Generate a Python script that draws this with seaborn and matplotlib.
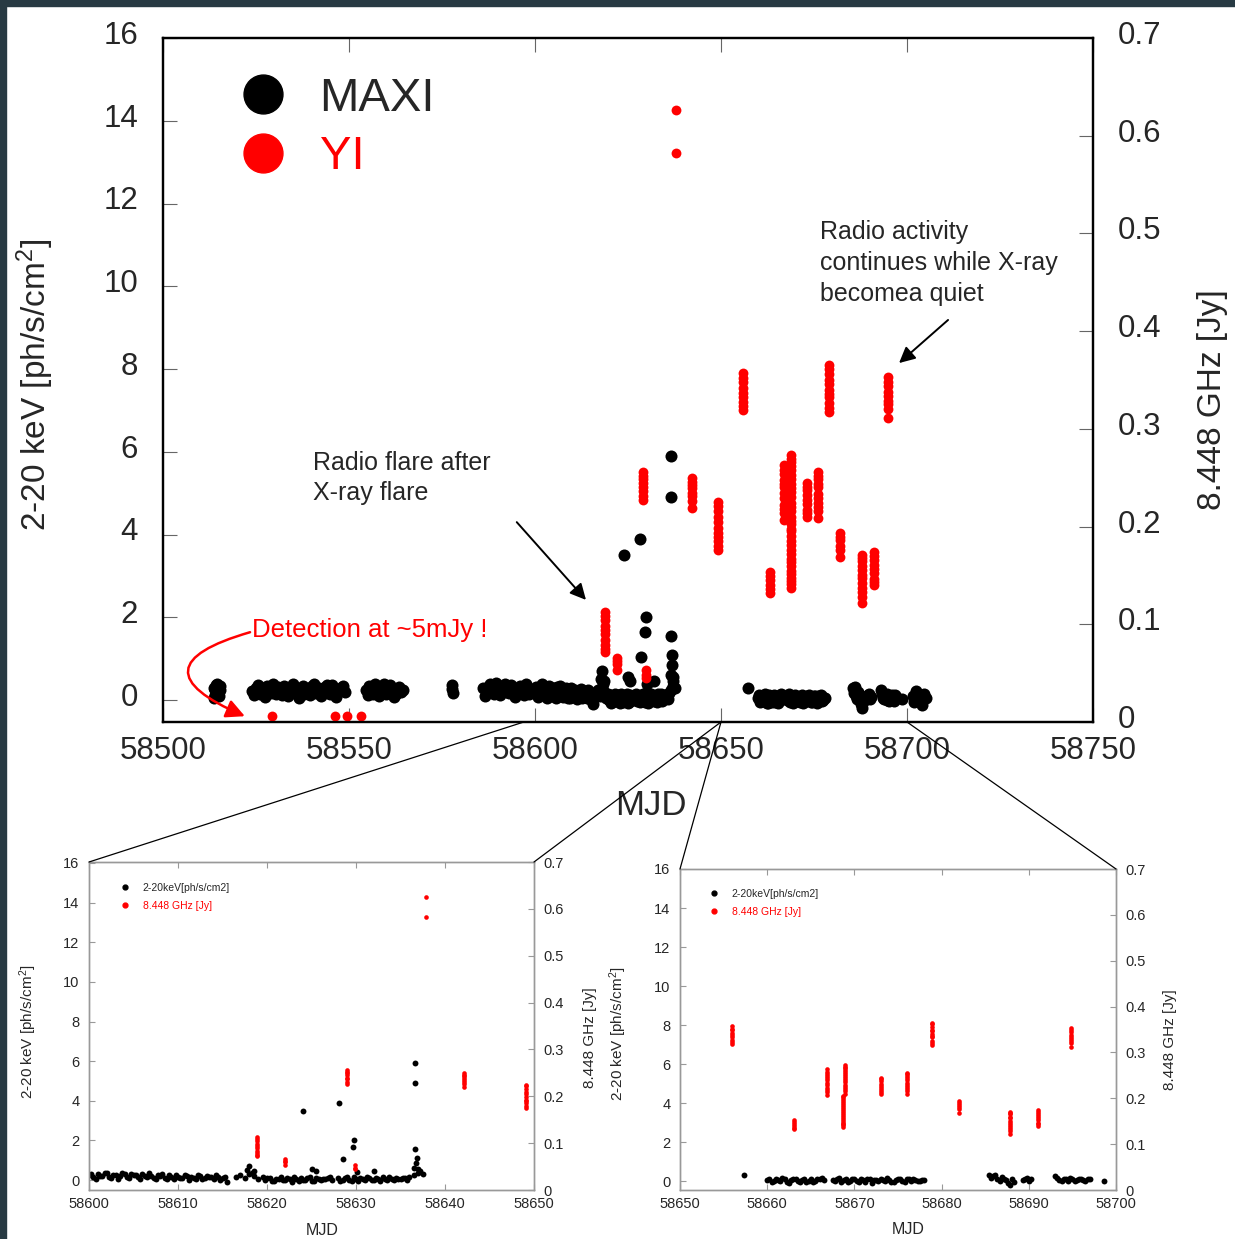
import numpy as np
import pandas as pd
import matplotlib
matplotlib.use('Agg')
import matplotlib.pyplot as plt
import matplotlib.transforms as mtransforms
import seaborn as sns
from matplotlib.lines import Line2D
from matplotlib.patches import ConnectionPatch, Rectangle

# ---- data (MJD given as offset from 58500) ----
MJD0 = 58500

# MAXI 2-20 keV [ph/s/cm2]
maxi_day = [
    13.6, 13.9, 14.2, 14.5, 14.8, 15.1, 15.4,
    13.7, 14.0, 14.3, 14.6, 14.9, 15.2,
    24, 25, 26, 27, 28, 29, 30, 31, 32, 33, 34, 35, 36, 37, 38, 39, 40, 41, 42, 43, 44, 45, 46, 47, 48, 49,
    24.5, 25.5, 26.5, 27.5, 28.5, 29.5, 30.5, 31.5, 32.5, 33.5, 34.5, 35.5, 36.5, 37.5, 38.5, 39.5,
    40.5, 41.5, 42.5, 43.5, 44.5, 45.5, 46.5, 47.5, 48.5,
    54.5, 55.5, 56.5, 57.5, 58.5, 59.5, 60.5, 61.5, 62.5, 63.5, 64.5,
    55, 56, 57, 58, 59, 60, 61, 62, 63, 64,
    77.6, 77.8, 78.0,
    86, 87, 88, 89, 90, 91, 92, 93, 94, 95, 96, 97, 98, 99,
    86.5, 87.5, 88.5, 89.5, 90.5, 91.5, 92.5, 93.5, 94.5, 95.5, 96.5, 97.5, 98.5,
    100.0, 100.5, 101.0, 101.5, 102.0, 102.5, 103.0, 103.5, 104.0, 104.5, 105.0, 105.5, 106.0, 106.5, 107.0, 107.5,
    108.0, 108.5, 109.0, 109.5, 110.0, 110.5, 111.0, 111.5, 112.0, 112.5, 113.0, 113.5, 114.0, 114.5, 115.0, 115.5,
    100.25, 100.75, 101.25, 101.75, 102.25, 102.75, 103.25, 103.75, 104.25, 104.75, 105.25, 105.75, 106.25, 106.75,
    107.25, 107.75, 108.25, 108.75, 109.25, 109.75, 110.25, 110.75, 111.25, 111.75, 112.25, 112.75, 113.25, 113.75,
    114.25, 114.75, 115.25,
    116.5, 117.0, 117.5, 118.0, 118.5, 119.0, 119.5,
    117.7, 118.0, 118.3, 118.5,
    119.8, 120.3, 120.8, 121.3, 121.8, 122.3, 122.8, 123.3, 123.8, 124.3, 124.8, 125.3, 125.8, 126.3, 126.8, 127.3,
    120.05, 120.55, 121.05, 121.55, 122.05, 122.55, 123.05, 123.55, 124.05, 124.55, 125.05, 125.55, 126.05, 126.55, 127.05,
    124.0, 125.0, 125.5,
    128.0, 128.5, 129.0, 129.5, 130.0, 130.5, 131.0, 131.5, 132.0, 132.5,
    133.0, 133.5, 134.0, 134.5, 135.0, 135.5, 136.0, 136.5, 137.0, 137.5,
    128.25, 128.75, 129.25, 129.75, 130.25, 130.75, 131.25, 131.75, 132.25, 132.75, 133.25, 133.75,
    134.25, 134.75, 135.25, 135.75,
    128.1, 128.5, 129.7, 129.8, 130.1, 132.0, 136.5, 136.6, 136.6, 136.6, 136.7, 136.8, 137.0, 137.2,
    157.3,
    160.0, 160.5, 161.0, 161.5, 162.0, 162.5, 163.0, 163.5, 164.0, 164.5, 165.0, 165.5, 166.0, 166.5,
    160.25, 160.75, 161.25, 161.75, 162.25, 162.75, 163.25, 163.75, 164.25, 164.75, 165.25, 165.75, 166.25,
    167.5, 168.0, 168.5, 169.0, 169.5, 170.0, 170.5, 171.0, 171.5, 172.0, 172.5,
    173.0, 173.5, 174.0, 174.5, 175.0, 175.5, 176.0, 176.5, 177.0, 177.5, 178.0,
    167.75, 168.25, 168.75, 169.25, 169.75, 170.25, 170.75, 171.25, 171.75, 172.25, 172.75,
    173.25, 173.75, 174.25, 174.75, 175.25, 175.75, 176.25, 176.75, 177.25, 177.75,
    185.4, 185.9, 186.4, 186.9, 187.4, 187.9, 188.3,
    185.65, 186.15, 186.65, 187.15, 187.65, 188.1,
    189.3, 189.8, 190.3, 189.55, 190.05,
    193.0, 193.5, 194.0, 194.5, 195.0, 195.5, 196.0, 196.5, 197.0,
    193.25, 193.75, 194.25, 194.75, 195.25, 195.75, 196.25, 196.75,
    198.6,
    201.5, 202.0, 202.5, 203.0, 203.5, 204.0, 204.5, 205.0,
]
maxi_flux = [
    0.30, 0.12, 0.36, 0.20, 0.32, 0.10, 0.25,
    0.05, 0.25, 0.15, 0.40, 0.20, 0.35,
    0.22, 0.30, 0.15, 0.28, 0.35, 0.18, 0.25, 0.32, 0.12, 0.28, 0.22, 0.38, 0.20, 0.30, 0.15, 0.26, 0.34, 0.18, 0.30, 0.22, 0.36, 0.14, 0.28, 0.24, 0.32, 0.20,
    0.12, 0.36, 0.20, 0.08, 0.30, 0.40, 0.14, 0.22, 0.35, 0.10, 0.30, 0.18, 0.06, 0.33, 0.24, 0.12,
    0.38, 0.28, 0.10, 0.32, 0.16, 0.36, 0.08, 0.26, 0.34,
    0.25, 0.35, 0.15, 0.30, 0.20, 0.38, 0.22, 0.30, 0.15, 0.32, 0.24,
    0.12, 0.28, 0.38, 0.10, 0.30, 0.14, 0.36, 0.08, 0.26, 0.20,
    0.36, 0.26, 0.18,
    0.30, 0.20, 0.38, 0.15, 0.32, 0.25, 0.40, 0.18, 0.30, 0.22, 0.35, 0.12, 0.28, 0.20,
    0.10, 0.35, 0.25, 0.42, 0.12, 0.30, 0.20, 0.36, 0.08, 0.28, 0.22, 0.38, 0.15,
    0.25, 0.15, 0.30, 0.20, 0.35, 0.12, 0.28, 0.22, 0.30, 0.10, 0.25, 0.18, 0.32, 0.15, 0.22, 0.08,
    0.20, 0.12, 0.25, 0.05, 0.18, 0.10, 0.22, 0.15, 0.08, 0.20, 0.12, 0.18, 0.05, 0.15, 0.10, -0.10,
    0.32, 0.08, 0.22, 0.38, 0.18, 0.28, 0.06, 0.35, 0.16, 0.30, 0.24, 0.05, 0.20, 0.34,
    0.12, 0.26, 0.30, 0.06, 0.16, 0.28, 0.10, 0.24, 0.02, 0.12, 0.26, 0.06, 0.22, 0.14,
    0.24, 0.02, 0.18,
    0.15, 0.25, 0.10, 0.30, 0.20, 0.05, 0.15,
    0.52, 0.70, 0.38, 0.45,
    0.00, 0.10, -0.05, 0.08, 0.02, 0.12, -0.08, 0.05, 0.10, 0.00, 0.15, -0.05, 0.08, 0.03, 0.12, -0.02,
    0.12, -0.06, 0.05, 0.15, -0.02, 0.06, 0.14, -0.04, 0.02, 0.10, -0.06, 0.12, 0.00, 0.08, 0.15,
    3.50, 0.55, 0.45,
    0.10, 0.00, 0.15, -0.05, 0.08, 0.12, 0.02, 0.10, -0.02, 0.05,
    0.15, 0.00, 0.08, 0.12, 0.05, 0.10, 0.18, 0.25, 0.35, 0.30,
    -0.04, 0.12, 0.02, 0.16, -0.06, 0.06, 0.14, 0.00, 0.10, -0.05, 0.08, 0.14,
    -0.02, 0.06, 0.12, 0.02,
    3.90, 1.05, 1.65, 2.00, 0.40, 0.45, 0.60, 5.90, 4.90, 1.55, 0.85, 1.10, 0.55, 0.45,
    0.29,
    0.05, -0.05, 0.10, 0.00, 0.08, -0.08, 0.12, 0.02, 0.06, -0.04, 0.10, 0.00, 0.08, 0.03,
    0.12, -0.02, 0.06, 0.14, -0.06, 0.04, 0.10, -0.04, 0.12, 0.02, -0.06, 0.08, 0.14,
    0.05, 0.10, -0.05, 0.08, 0.00, 0.12, -0.03, 0.06, 0.10, -0.08, 0.04,
    0.10, 0.00, 0.07, -0.05, 0.09, 0.02, 0.11, -0.02, 0.06, 0.00, 0.05,
    0.00, 0.14, 0.04, -0.06, 0.10, 0.02, 0.08, -0.05, 0.12, 0.03, -0.02,
    0.06, 0.13, -0.04, 0.04, 0.10, -0.06, 0.08, 0.12, -0.02, 0.06,
    0.30, 0.25, 0.10, 0.20, 0.05, -0.18, -0.05,
    0.18, 0.32, 0.02, 0.12, -0.10, 0.08,
    0.05, 0.15, 0.08, 0.12, 0.02,
    0.25, 0.05, 0.12, 0.00, 0.10, 0.05, 0.12, -0.02, 0.08,
    0.14, 0.02, 0.08, 0.15, -0.02, 0.10, 0.03, 0.12,
    0.02,
    0.10, -0.05, 0.22, 0.00, 0.08, -0.12, 0.15, 0.05,
]

# YI 8.448 GHz [Jy]: one epoch per session, several points each
yi_epoch = [29.3, 46.3, 49.4, 53.3, 118.85, 122.0, 129.0, 129.9, 137.9, 142.1, 149.1,
            156.0, 163.1, 166.9, 168.9, 168.7, 173.0, 176.0, 178.9, 182.0, 187.8, 191.0, 194.8]
yi_flux = [
    [0.006], [0.006], [0.006], [0.006],
    [0.113, 0.108, 0.104, 0.098, 0.094, 0.090, 0.084, 0.079, 0.075, 0.072],
    [0.066, 0.062, 0.059, 0.053],
    [0.256, 0.252, 0.249, 0.245, 0.240, 0.236, 0.231, 0.227],
    [0.053, 0.048, 0.045],
    [0.626, 0.582],
    [0.250, 0.246, 0.243, 0.239, 0.234, 0.231, 0.226, 0.219],
    [0.225, 0.221, 0.216, 0.210, 0.205, 0.199, 0.193, 0.189, 0.185, 0.180, 0.176],
    [0.357, 0.352, 0.348, 0.342, 0.337, 0.333, 0.327, 0.323, 0.319],
    [0.153, 0.149, 0.145, 0.140, 0.136, 0.132],
    [0.263, 0.258, 0.254, 0.248, 0.244, 0.240, 0.234, 0.229, 0.222, 0.218, 0.214, 0.207],
    [0.273, 0.269, 0.266, 0.262, 0.258, 0.253, 0.249, 0.244, 0.239, 0.235, 0.230, 0.224, 0.220, 0.216, 0.210],
    [0.206, 0.203, 0.198, 0.195, 0.190, 0.185, 0.181, 0.176, 0.172, 0.167, 0.164, 0.160, 0.155,
     0.151, 0.147, 0.144, 0.141, 0.137],
    [0.245, 0.241, 0.237, 0.232, 0.227, 0.223, 0.217, 0.214, 0.210],
    [0.256, 0.252, 0.249, 0.244, 0.240, 0.233, 0.229, 0.224, 0.220, 0.216, 0.209],
    [0.365, 0.361, 0.356, 0.350, 0.346, 0.340, 0.336, 0.333, 0.326, 0.321, 0.317],
    [0.193, 0.189, 0.186, 0.180, 0.176, 0.169],
    [0.171, 0.168, 0.165, 0.160, 0.156, 0.150, 0.147, 0.142, 0.137, 0.133, 0.128, 0.122],
    [0.174, 0.170, 0.166, 0.161, 0.157, 0.152, 0.146, 0.143, 0.140],
    [0.353, 0.348, 0.344, 0.338, 0.334, 0.329, 0.325, 0.320, 0.311],
]

xray_ticks = [0, 2, 4, 6, 8, 10, 12, 14, 16]
xray_labels = ['0', '2', '4', '6', '8', '10', '12', '14', '16']
radio_ticks = [0, 0.1, 0.2, 0.3, 0.4, 0.5, 0.6, 0.7]
radio_labels = ['0', '0.1', '0.2', '0.3', '0.4', '0.5', '0.6', '0.7']
main_mjd_ticks = [58500, 58550, 58600, 58650, 58700, 58750]
ins1_mjd_ticks = [58600, 58610, 58620, 58630, 58640, 58650]
ins2_mjd_ticks = [58650, 58660, 58670, 58680, 58690, 58700]

assert len(maxi_day) == len(maxi_flux)
maxi = pd.DataFrame({'mjd': MJD0 + np.array(maxi_day), 'flux': maxi_flux})
yi = pd.DataFrame([(MJD0 + d, f) for d, fl in zip(yi_epoch, yi_flux) for f in fl],
                  columns=['mjd', 'jy'])

sns.set_style('white')
plt.rcParams['font.family'] = ['Liberation Sans', 'DejaVu Sans']
plt.rcParams['mathtext.default'] = 'regular'

W, H = 1235, 1239
fig = plt.figure(figsize=(W / 100, H / 100), dpi=100)
fig.patch.set_facecolor('white')
# dark slide edges
fig.add_artist(Rectangle((0, 1 - 6 / H), 1, 6 / H, transform=fig.transFigure,
                         color='#283a43', zorder=0))
fig.add_artist(Rectangle((0, 0), 6 / W, 1, transform=fig.transFigure,
                         color='#283a43', zorder=0))


def lightcurve(rect, xlim, xticks, ylim, s_k, s_r, fs_tick, tick_len, tick_col,
               spine_col, spine_lw, ypad, xpad):
    ax = fig.add_axes(rect)
    sns.scatterplot(data=maxi, x='mjd', y='flux', ax=ax, color='black', s=s_k,
                    linewidth=0, legend=False)
    ax.set_xlim(*xlim)
    ax.set_ylim(*ylim)
    ax2 = ax.twinx()
    sns.scatterplot(data=yi, x='mjd', y='jy', ax=ax2, color='red', s=s_r,
                    linewidth=0, legend=False)
    ax2.set_ylim(0, 0.7)
    ax.set_xticks(xticks)
    ax.set_xticklabels([str(t) for t in xticks])
    ax.set_yticks(xray_ticks)
    ax.set_yticklabels(xray_labels)
    ax2.set_yticks(radio_ticks)
    ax2.set_yticklabels(radio_labels)
    ax.tick_params(axis='x', direction='in', top=True, bottom=True, length=tick_len,
                   color=tick_col, labelsize=fs_tick, pad=xpad)
    ax.tick_params(axis='y', direction='in', left=True, right=False, length=tick_len,
                   color=tick_col, labelsize=fs_tick, pad=ypad)
    ax2.tick_params(axis='y', direction='in', right=True, left=False, length=tick_len,
                    color=tick_col, labelsize=fs_tick, pad=ypad)
    for a in (ax, ax2):
        for sp in a.spines.values():
            sp.set_color(spine_col)
            sp.set_linewidth(spine_lw)
    ax.set_xlabel('')
    ax.set_ylabel('')
    ax2.set_ylabel('')
    ax2.set_xlabel('')
    return ax, ax2


# ---- main panel ----
ax, ax2 = lightcurve([163 / W, 1 - 722 / H, 930 / W, 684 / H], (58500, 58750),
                     main_mjd_ticks, (-0.53, 16), 75, 50, 22.5, 10, '#666666',
                     'black', 1.6, 18, 10)
ax.set_xlabel('MJD', fontsize=25, va='center')
ax.xaxis.set_label_coords(0.525, -0.1228)
ax.set_ylabel(r'2-20 keV [ph/s/cm$^2$]', fontsize=24, va='center')
ax.yaxis.set_label_coords(-0.1376, 0.493)
ax2.set_ylabel('8.448 GHz [Jy]', fontsize=24, va='center', rotation=90)
ax2.yaxis.set_label_coords(1.129, 0.472)

# y tick labels sit a few pixels above their ticks in the original
lift = mtransforms.ScaledTranslation(0, 4 / 72, fig.dpi_scale_trans)
for lab in ax.get_yticklabels() + ax2.get_yticklabels():
    lab.set_transform(lab.get_transform() + lift)

handles = [Line2D([], [], marker='o', ls='none', color='black', markersize=28),
           Line2D([], [], marker='o', ls='none', color='red', markersize=28)]
leg = ax2.legend(handles, ['MAXI', 'YI'], loc='upper left', bbox_to_anchor=(0.082, 0.943),
                 frameon=False, fontsize=34, handlelength=1.0, handletextpad=0.7,
                 labelspacing=0.3, borderpad=0, borderaxespad=0)
leg.get_texts()[1].set_color('red')

ax.annotate('', xy=(58614.2, 2.37), xytext=(58594.6, 4.35),
            arrowprops=dict(arrowstyle='-|>', color='black', lw=1.4, mutation_scale=24))
ax.text(58540.3, 5.37, 'Radio flare after\nX-ray flare', fontsize=18, ha='left',
        va='center', linespacing=1.35)
ax.annotate('', xy=(58697.3, 8.1), xytext=(58711.6, 9.23),
            arrowprops=dict(arrowstyle='-|>', color='black', lw=1.4, mutation_scale=24))
ax.text(58676.6, 10.56, 'Radio activity\ncontinues while X-ray\nbecomea quiet', fontsize=18,
        ha='left', va='center', linespacing=1.35)
ax.text(58523.9, 1.69, 'Detection at ~5mJy !', fontsize=18.5, color='red', ha='left',
        va='center')
ax.annotate('', xy=(58522.0, -0.39), xytext=(58523.4, 1.64),
            arrowprops=dict(arrowstyle='-|>', color='red', lw=1.8, mutation_scale=28,
                            connectionstyle='arc3,rad=1.4', shrinkA=0, shrinkB=0))


# ---- zoomed panels ----
def inset(rect, xlim, xticks, ylim, ylab_x, ylab_y, rlab_x, rlab_y, leg_anchor):
    a, b = lightcurve(rect, xlim, xticks, ylim, 18, 11, 10.5, 4, '#999999',
                      '#999999', 1.0, 7, 5)
    a.set_xlabel('MJD', fontsize=11.5, va='center')
    a.xaxis.set_label_coords(0.524, -0.123)
    a.set_ylabel(r'2-20 keV [ph/s/cm$^2$]', fontsize=11, va='center')
    a.yaxis.set_label_coords(ylab_x, ylab_y)
    b.set_ylabel('8.448 GHz [Jy]', fontsize=11, va='center', rotation=90)
    b.yaxis.set_label_coords(rlab_x, rlab_y)
    hs = [Line2D([], [], marker='o', ls='none', color='black', markersize=3.5),
          Line2D([], [], marker='o', ls='none', color='red', markersize=3.5)]
    lg = b.legend(hs, ['2-20keV[ph/s/cm2]', '8.448 GHz [Jy]'], loc='upper left',
                  bbox_to_anchor=leg_anchor, frameon=False, fontsize=7.5,
                  handlelength=1.0, handletextpad=1.2, labelspacing=0.75,
                  borderpad=0, borderaxespad=0)
    lg.get_texts()[1].set_color('red')
    return a, b


in1, in1b = inset([89 / W, 1 - 1190 / H, 445 / W, 328 / H], (58600, 58650), ins1_mjd_ticks,
                  (-0.5, 16.05), -0.137, 0.482, 1.126, 0.466, (0.069, 0.936))
in2, in2b = inset([680 / W, 1 - 1190 / H, 436 / W, 321 / H], (58650, 58700), ins2_mjd_ticks,
                  (-0.46, 16.0), -0.142, 0.488, 1.124, 0.469, (0.066, 0.938))

# zoom guide lines
for xa, axb, xyb in [(58597, in1, (0, 1)), (58650, in1, (1, 1)),
                     (58650, in2, (0, 1)), (58700, in2, (1, 1))]:
    con = ConnectionPatch(xyA=(xa, -0.53), coordsA='data', axesA=ax,
                          xyB=xyb, coordsB='axes fraction', axesB=axb,
                          color='black', lw=0.9)
    fig.add_artist(con)

fig.savefig('out.png', dpi=100)
